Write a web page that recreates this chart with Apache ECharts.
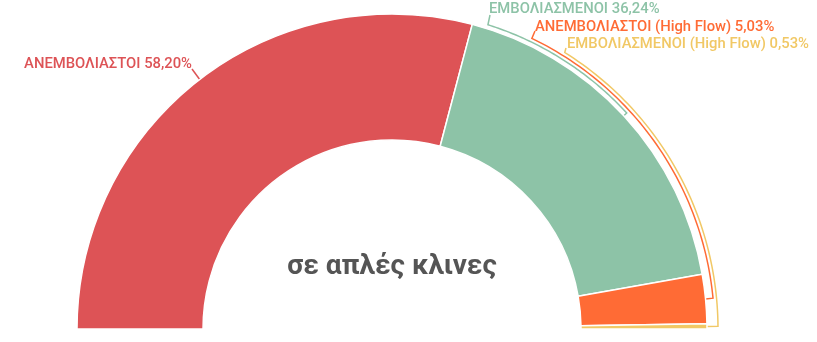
<!DOCTYPE html>
<html>
<head>
<meta charset="utf-8">
<style>
html,body{margin:0;padding:0;background:#fff;}
#c{width:817px;height:342px;}
</style>
<script src="https://cdn.jsdelivr.net/npm/echarts@6/dist/echarts.min.js"></script>
</head>
<body>
<div id="c"></div>
<script>
// ---- data ----
const categories = ['ΑΝΕΜΒΟΛΙΑΣΤΟΙ', 'ΕΜΒΟΛΙΑΣΜΕΝΟΙ', 'ΑΝΕΜΒΟΛΙΑΣΤΟΙ (High Flow)', 'ΕΜΒΟΛΙΑΣΜΕΝΟΙ (High Flow)'];
const values = [58.20, 36.24, 5.03, 0.53];
const centerTitle = 'σε απλές κλινες';

// ---- styles / layout ----
const colors = ['#dd5356', '#8dc3a7', '#ff6b35', '#f1c865'];
const CX = 392, CY = 329, R_IN = 189, R_OUT = 315;
const labelSpots = [
  { x: 192, y: 64, align: 'right', end: [192, 69] },
  { x: 489, y: 9, align: 'left', arcR: 319, arcAng: 72.5, end: [490, 15] },
  { x: 535, y: 27, align: 'left', arcR: 322.5, arcAng: 64.3, end: [535, 31] },
  { x: 567, y: 44, align: 'left', arcR: 326, arcAng: 58, end: [566, 48] }
];

const chart = echarts.init(document.getElementById('c'), null, { renderer: 'canvas' });
chart.setOption({
  animation: false,
  backgroundColor: '#fff',
  graphic: [{
    type: 'text',
    style: {
      x: CX, y: 267, text: centerTitle, align: 'center', verticalAlign: 'middle',
      fill: '#555555', font: 'bold 28px Roboto'
    }
  }],
  series: [{
    type: 'pie',
    center: [CX, CY],
    radius: [R_IN, R_OUT],
    startAngle: 180,
    endAngle: 360,
    clockwise: true,
    avoidLabelOverlap: false,
    silent: true,
    itemStyle: { borderColor: '#ffffff', borderWidth: 1.5 },
    label: {
      show: true,
      position: 'outside',
      fontFamily: 'Roboto',
      fontSize: 14.8,
      fontWeight: 500,
      formatter: function (p) {
        return p.name + ' ' + p.value.toFixed(2).replace('.', ',') + '%';
      }
    },
    labelLine: { show: true, length: 10, length2: 0, lineStyle: { width: 1.5 } },
    labelLayout: function (p) {
      const s = labelSpots[p.dataIndex];
      const a0 = p.labelLinePoints ? p.labelLinePoints[0] : [CX, CY];
      let line;
      if (s.arcR) {
        const mid = Math.atan2(CY - a0[1], a0[0] - CX);
        const end = s.arcAng * Math.PI / 180;
        line = [a0];
        const n = 60;
        for (let i = 0; i <= n; i++) {
          const t = mid + (end - mid) * i / n;
          line.push([CX + s.arcR * Math.cos(t), CY - s.arcR * Math.sin(t)]);
        }
        line.push(s.end);
      } else {
        line = [a0, s.end];
      }
      return { x: s.x, y: s.y, align: s.align, verticalAlign: 'middle', labelLinePoints: line };
    },
    data: categories.map(function (name, i) {
      return {
        name: name, value: values[i],
        itemStyle: { color: colors[i] },
        label: { color: colors[i] },
        labelLine: { lineStyle: { color: colors[i] } }
      };
    })
  }]
});
</script>
</body>
</html>
